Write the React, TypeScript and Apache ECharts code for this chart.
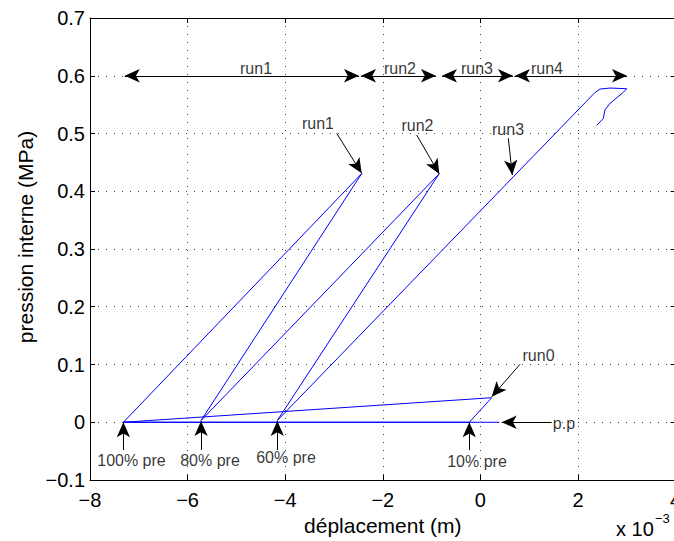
import React, { useEffect, useRef } from "react";
import * as echarts from "echarts";

// Measured curve (displacement in 1e-3 m, pressure in MPa)
const curveX = [0.387, -7.316, 0.232, -0.228, -7.316, -2.432, -5.725, -0.848, -4.162, 2.348, 2.451, 2.656, 2.998, 2.928, 2.656, 2.553, 2.518, 2.451, 2.383];
const curveY = [0, 0, 0.0425, 0, 0, 0.4307, 0.003, 0.43, 0.003, 0.571, 0.577, 0.5787, 0.5776, 0.5713, 0.552, 0.541, 0.526, 0.52, 0.514];

// Double-headed arrows at p = 0.6
const spanNames = ["run1", "run2", "run3", "run4"];
const spanStart = [-7.289, -2.447, -0.787, 0.709];
const spanEnd = [-2.488, -0.91, 0.668, 3.004];
const spanY = 0.6;
const spanLabelX = [-4.598, -1.648, -0.07, 1.365];
const spanLabelY = 0.6134;

// Pointer arrows
const ptrNames = ["run1", "run2", "run3", "run0", "p.p", "100% pre", "80% pre", "60% pre", "10% pre"];
const ptrTailX = [-2.945, -1.305, 0.572, 0.811, 1.461, -7.316, -5.725, -4.162, -0.228];
const ptrTailY = [0.5003, 0.4974, 0.4917, 0.1003, 0, -0.048, -0.048, -0.048, -0.048];
const ptrTipX = [-2.432, -0.842, 0.654, 0.232, 0.436, -7.316, -5.725, -4.162, -0.228];
const ptrTipY = [0.4311, 0.4299, 0.4281, 0.0442, 0, 0, 0.002, 0.002, 0];
const ptrLabelX = [-3.328, -1.289, 0.566, 1.191, 1.713, -7.15, -5.541, -3.984, -0.07];
const ptrLabelY = [0.5177, 0.513, 0.507, 0.1164, -0.003, -0.0654, -0.0654, -0.0619, -0.0671];

const FONT = "Liberation Sans, Arial, Helvetica, sans-serif";
const minus = (v: number) => String(Math.round(v * 10) / 10).replace("-", "\u2212");

export default function App() {
  const ref = useRef<HTMLDivElement>(null);
  useEffect(() => {
    if (!ref.current) return;
    const chart = echarts.init(ref.current, null, { renderer: "svg" });
    const grid = { left: 90, top: 18, width: 585.6, height: 462, containLabel: false, outerBoundsMode: "none" };
    const axisLine = { show: true, onZero: false, lineStyle: { color: "#000", width: 1 } };
    const axisTick = { show: true, inside: true, length: 5, lineStyle: { color: "#000" } };
    const splitLine = { show: true, lineStyle: { color: "#444", width: 1, type: [1, 7] as any } };

    const labelData = [
      ...spanNames.map((n, i) => ({ name: n, value: [spanLabelX[i], spanLabelY] })),
      ...ptrNames.map((n, i) => ({ name: n, value: [ptrLabelX[i], ptrLabelY[i]] })),
    ];
    const markData: any[] = [
      ...spanNames.map((_, i) => [
        { coord: [spanStart[i], spanY], symbol: "arrow" },
        { coord: [spanEnd[i], spanY], symbol: "arrow" },
      ]),
      ...ptrNames.map((_, i) => [
        { coord: [ptrTailX[i], ptrTailY[i]], symbol: "none" },
        { coord: [ptrTipX[i], ptrTipY[i]], symbol: "arrow" },
      ]),
    ];

    chart.setOption({
      animation: false,
      grid,
      xAxis: [
        {
          type: "value", min: -8, max: 4, interval: 2, position: "bottom",
          axisLine, axisTick, splitLine,
          axisLabel: { formatter: minus, fontSize: 20, color: "#000", fontFamily: FONT, margin: 10 },
          name: "déplacement (m)", nameLocation: "middle", nameGap: 32,
          nameTextStyle: { fontSize: 21, color: "#000", fontFamily: FONT },
        },
        {
          type: "value", min: -8, max: 4, interval: 2, position: "top",
          axisLine, axisTick, splitLine: { show: false }, axisLabel: { show: false },
        },
      ],
      yAxis: [
        {
          type: "value", min: -0.1, max: 0.7, interval: 0.1, position: "left",
          axisLine, axisTick, splitLine,
          axisLabel: { formatter: minus, fontSize: 20, color: "#000", fontFamily: FONT, margin: 5 },
        },
        {
          type: "value", min: -0.1, max: 0.7, interval: 0.1, position: "right",
          axisLine, axisTick, splitLine: { show: false }, axisLabel: { show: false },
        },
      ],
      graphic: [
        {
          type: "text", x: 25, y: 237, rotation: Math.PI / 2,
          style: { text: "pression interne (MPa)", fontSize: 21, fontFamily: FONT, fill: "#000", align: "center", verticalAlign: "middle" },
        },
        { type: "text", x: 616, y: 529, style: { text: "x 10", fontSize: 20, fontFamily: FONT, fill: "#000", verticalAlign: "middle" } },
        { type: "text", x: 655, y: 518, style: { text: "\u22123", fontSize: 13, fontFamily: FONT, fill: "#000", verticalAlign: "middle" } },
      ],
      series: [
        {
          type: "line",
          data: curveX.map((x, i) => [x, curveY[i]]),
          showSymbol: false,
          lineStyle: { color: "#0000ff", width: 1 },
          silent: true,
          emphasis: { disabled: true },
        },
        {
          type: "scatter",
          data: labelData,
          symbolSize: 0,
          silent: true,
          emphasis: { disabled: true },
          label: { show: true, position: "inside", formatter: "{b}", fontSize: 16, color: "#000", fontFamily: FONT },
          markLine: {
            silent: true,
            symbolSize: [10, 15],
            label: { show: false },
            emphasis: { disabled: true },
            lineStyle: { color: "#000", width: 1, type: "solid" },
            data: markData,
          },
        },
      ],
    });
    return () => chart.dispose();
  }, []);
  return <div ref={ref} style={{ position: "fixed", left: 0, top: 0, width: 674, height: 541, background: "#fff" }} />;
}
